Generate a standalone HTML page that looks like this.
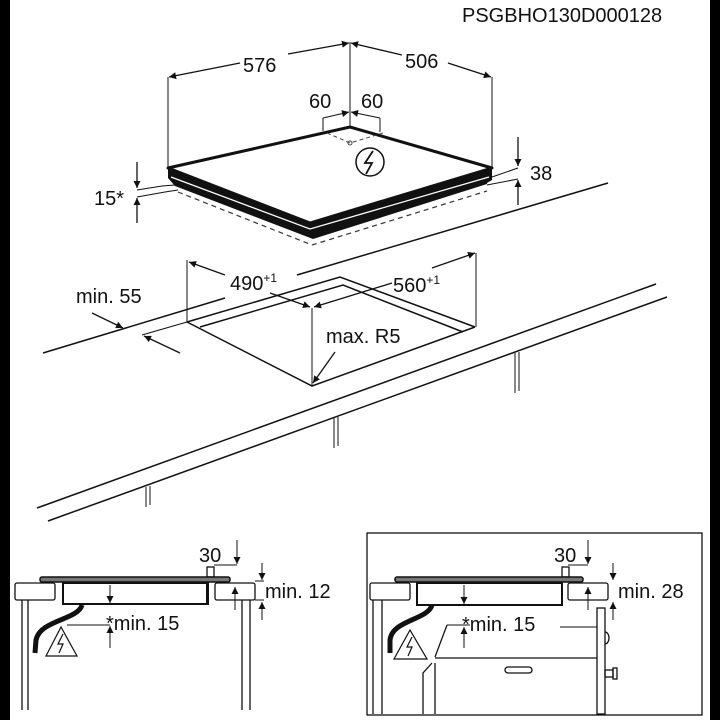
<!DOCTYPE html>
<html><head><meta charset="utf-8"><style>
html,body{margin:0;padding:0;background:#fff}
svg{display:block}
text{font-family:"Liberation Sans",Arial,sans-serif;fill:#111}
</style></head><body>
<svg width="720" height="720" viewBox="0 0 720 720" xmlns="http://www.w3.org/2000/svg">
<defs>
<marker id="a" viewBox="0 0 10 10" refX="10" refY="5" markerWidth="9" markerHeight="7" orient="auto-start-reverse" markerUnits="userSpaceOnUse"><path d="M0,0 L10,5 L0,10 z" fill="#111"/></marker>
</defs>
<rect x="0" y="0" width="10" height="720" fill="#000"/>
<rect x="710" y="0" width="10" height="720" fill="#000"/>
<text x="462" y="22" font-size="20">PSGBHO130D000128</text>

<g stroke="#111" fill="none" stroke-width="1">
<line x1="350" y1="42" x2="350" y2="127"/>
<line x1="168" y1="77" x2="168" y2="167"/>
<line x1="492" y1="77" x2="492" y2="168"/>
<line x1="240" y1="63" x2="169" y2="77" marker-end="url(#a)" stroke-width="1.3"/>
<line x1="288" y1="54" x2="349" y2="43" marker-end="url(#a)" stroke-width="1.3"/>
<line x1="402" y1="55" x2="351" y2="43" marker-end="url(#a)" stroke-width="1.3"/>
<line x1="448" y1="63" x2="491" y2="77" marker-end="url(#a)" stroke-width="1.3"/>
<line x1="323" y1="118" x2="323" y2="131"/>
<line x1="380" y1="118" x2="380" y2="132"/>
<line x1="323" y1="118" x2="349" y2="112" marker-end="url(#a)"/>
<line x1="380" y1="118" x2="351" y2="112" marker-end="url(#a)"/>
<line x1="137" y1="162" x2="137" y2="188" marker-end="url(#a)" stroke-width="1.3"/>
<line x1="137" y1="223" x2="137" y2="198" marker-end="url(#a)" stroke-width="1.3"/>
<polyline points="137,190 162,186 175,185"/>
<polyline points="137,197 165,192 178,190"/>
<line x1="518" y1="137" x2="518" y2="166" marker-end="url(#a)" stroke-width="1.3"/>
<line x1="518" y1="205" x2="518" y2="180" marker-end="url(#a)" stroke-width="1.3"/>
<line x1="492" y1="177" x2="518" y2="168"/>
<line x1="487" y1="185" x2="518" y2="179"/>
</g>
<!-- hob -->
<polygon points="168,168 310,223 492,168 492,180 487,183 487,184 313,239 175,186 168,178" fill="#111"/>
<polyline points="178,192 312,245 487,191" fill="none" stroke="#333" stroke-width="1.2" stroke-dasharray="5,4"/>
<polygon points="350,127 492,168 310,223 168,168" fill="#fff" stroke="#111" stroke-width="3" stroke-linejoin="round"/>
<polyline points="171,177 310,229 489,177" fill="none" stroke="#fff" stroke-width="1.3"/>
<polyline points="327,133 350,143 383,133" fill="none" stroke="#444" stroke-width="1" stroke-dasharray="4,3"/>
<circle cx="350" cy="143" r="2" fill="none" stroke="#444"/>
<circle cx="370" cy="162" r="14" fill="#fff" stroke="#111" stroke-width="1.5"/>
<path d="M373,151 L365,163 L372,163 L366,174" fill="none" stroke="#111" stroke-width="1.8"/>

<g font-size="20">
<text x="243" y="72">576</text>
<text x="405" y="68">506</text>
<text x="309" y="108">60</text>
<text x="361" y="108">60</text>
<text x="94" y="205">15*</text>
<text x="530" y="180">38</text>
<text x="76" y="303">min. 55</text>
<text x="230" y="290">490<tspan font-size="12" dy="-8">+1</tspan></text>
<text x="393" y="292">560<tspan font-size="12" dy="-8">+1</tspan></text>
<text x="326" y="343">max. R5</text>
</g>

<g stroke="#111" fill="none" stroke-width="1.5">
<line x1="43" y1="353" x2="225" y2="298"/>
<line x1="297" y1="275" x2="608" y2="183"/>
<line x1="37" y1="508" x2="656" y2="284"/>
<line x1="48" y1="521" x2="667" y2="297"/>
<polyline points="187,322 340,277 475,327"/>
<polyline points="200,327 343,285 463,332"/>
<polyline points="187,322 312,386 475,327"/>
<line x1="187" y1="322" x2="142" y2="335" stroke-width="1"/>
</g>
<g stroke="#111" fill="none" stroke-width="1">
<line x1="187" y1="260" x2="187" y2="322"/>
<line x1="476" y1="253" x2="476" y2="327"/>
<line x1="312" y1="308" x2="312" y2="386"/>
<line x1="225" y1="275" x2="189" y2="262" marker-end="url(#a)" stroke-width="1.3"/>
<line x1="432" y1="268" x2="475" y2="253" marker-end="url(#a)" stroke-width="1.3"/>
<line x1="392" y1="283" x2="314" y2="307" marker-end="url(#a)" stroke-width="1.3"/>
<line x1="270" y1="293" x2="310" y2="307" marker-end="url(#a)" stroke-width="1.3"/>
<line x1="335" y1="352" x2="313" y2="383" marker-end="url(#a)" stroke-width="1.3"/>
<line x1="92" y1="313" x2="123" y2="328" marker-end="url(#a)" stroke-width="1.3"/>
<line x1="180" y1="353" x2="144" y2="336" marker-end="url(#a)" stroke-width="1.3"/>
<line x1="146" y1="487" x2="146" y2="507"/><line x1="150" y1="486" x2="150" y2="505"/>
<line x1="334" y1="418" x2="334" y2="448"/><line x1="338" y1="417" x2="338" y2="446"/>
<line x1="515" y1="353" x2="515" y2="393"/><line x1="519" y1="352" x2="519" y2="391"/>
</g>

<g stroke="#111" fill="none" stroke-width="1.3">
<rect x="15" y="583" width="40" height="17" rx="2"/>
<rect x="215" y="583" width="40" height="17" rx="2"/>
<line x1="22" y1="600" x2="22" y2="710"/><line x1="28" y1="600" x2="28" y2="710"/>
<line x1="242" y1="600" x2="242" y2="710"/><line x1="250" y1="600" x2="250" y2="710"/>
<rect x="63" y="583" width="145" height="21" stroke-width="2"/>
<line x1="207" y1="577" x2="207" y2="604" stroke-width="2"/>
<rect x="207" y="567" width="7" height="10" fill="#fff"/>
<rect x="40" y="577" width="190" height="5" rx="2" fill="#777" stroke-width="1.5"/>
<path d="M82,605 C78,620 40,620 36,640 L35,653" stroke-width="5"/>
<path d="M61,627 L46,656 L77,656 Z" stroke-width="1.2"/>
<path d="M63,634 L58,644 L63,644 L59,653" stroke-width="1.2"/>
</g>
<g stroke="#111" fill="none" stroke-width="1">
<line x1="214" y1="565" x2="237" y2="565"/>
<line x1="237" y1="540" x2="237" y2="564" marker-end="url(#a)"/>
<line x1="262" y1="563" x2="262" y2="580" marker-end="url(#a)"/>
<line x1="262" y1="620" x2="262" y2="602" marker-end="url(#a)"/>
<line x1="255" y1="581" x2="264" y2="581"/><line x1="255" y1="600" x2="264" y2="600"/>
<line x1="235" y1="610" x2="235" y2="587" marker-end="url(#a)"/>
<line x1="110" y1="585" x2="110" y2="603" marker-end="url(#a)"/>
<line x1="110" y1="648" x2="110" y2="626" marker-end="url(#a)"/>
<line x1="67" y1="625" x2="110" y2="625"/>
</g>
<g font-size="20">
<text x="199" y="562">30</text>
<text x="265" y="598">min. 12</text>
<text x="106" y="630">*min. 15</text>
</g>

<rect x="367" y="533" width="335" height="182" fill="none" stroke="#111" stroke-width="1.3"/>
<g stroke="#111" fill="none" stroke-width="1.3">
<rect x="370" y="583" width="40" height="17" rx="2"/>
<rect x="568" y="583" width="40" height="17" rx="2"/>
<line x1="373" y1="600" x2="373" y2="714"/><line x1="382" y1="600" x2="382" y2="714"/>
<rect x="417" y="583" width="145" height="22" stroke-width="2"/>
<line x1="562" y1="577" x2="562" y2="605" stroke-width="2"/>
<rect x="562" y="567" width="7" height="10" fill="#fff"/>
<rect x="395" y="577" width="188" height="5" rx="2" fill="#777" stroke-width="1.5"/>
<path d="M432,605 C428,620 392,620 390,640 L390,653" stroke-width="5"/>
<path d="M410,630 L394,659 L427,659 Z" stroke-width="1.2"/>
<path d="M412,637 L407,647 L412,647 L408,656" stroke-width="1.2"/>
<line x1="447" y1="625" x2="435" y2="657"/>
<line x1="435" y1="658" x2="597" y2="658"/>
<polyline points="432,663 423,673 423,714"/>
<line x1="435" y1="663" x2="435" y2="714"/>
<rect x="597" y="608" width="8" height="106" fill="#fff"/>
<path d="M605,632 A4,6 0 0 1 605,644"/>
<rect x="605" y="670" width="8" height="7"/>
<rect x="613" y="668" width="4" height="11"/>
<rect x="505" y="667" width="27" height="6" rx="3"/>
</g>
<g stroke="#111" fill="none" stroke-width="1">
<line x1="568" y1="565" x2="588" y2="565"/>
<line x1="588" y1="540" x2="588" y2="564" marker-end="url(#a)"/>
<line x1="613" y1="563" x2="613" y2="580" marker-end="url(#a)"/>
<line x1="613" y1="620" x2="613" y2="602" marker-end="url(#a)"/>
<line x1="588" y1="610" x2="588" y2="587" marker-end="url(#a)"/>
<line x1="464" y1="585" x2="464" y2="604" marker-end="url(#a)"/>
<line x1="464" y1="648" x2="464" y2="627" marker-end="url(#a)"/>
<line x1="447" y1="625" x2="470" y2="625"/>
<line x1="560" y1="627" x2="597" y2="627"/>
</g>
<g font-size="20">
<text x="554" y="562">30</text>
<text x="618" y="598">min. 28</text>
<text x="462" y="631">*min. 15</text>
</g>
</svg>
</body></html>
